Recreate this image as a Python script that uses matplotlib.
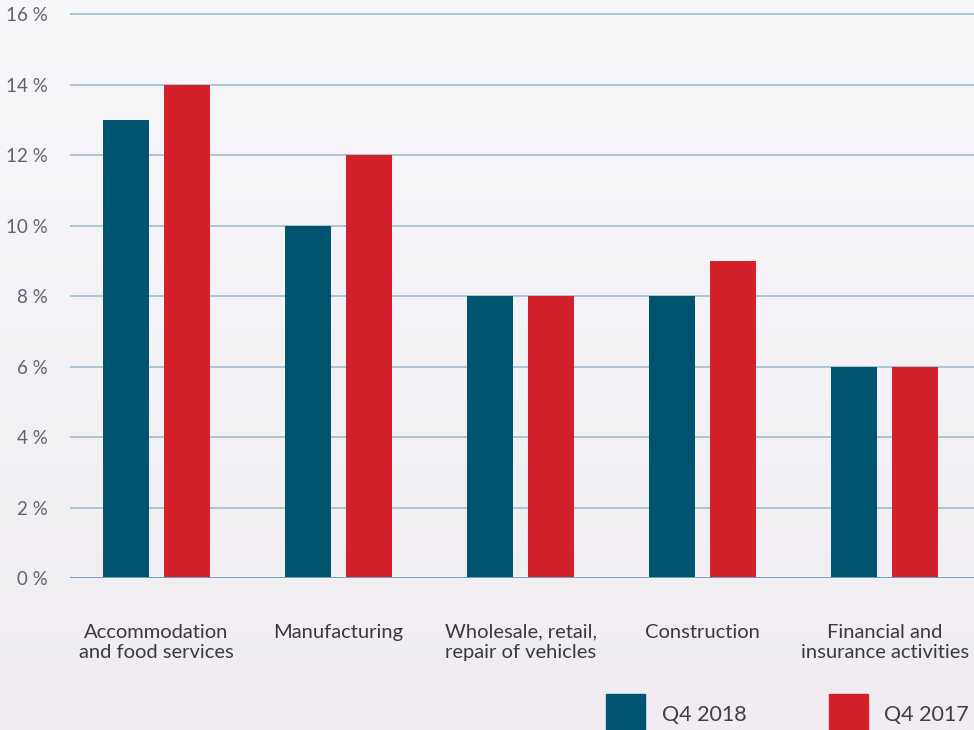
import numpy as np
import matplotlib
matplotlib.use("Agg")
import matplotlib.pyplot as plt
from matplotlib.patches import Rectangle
from matplotlib.colors import LinearSegmentedColormap

plt.rcParams['font.family'] = ['Lato', 'DejaVu Sans']

sectors = ["Accommodation\nand food services", "Manufacturing",
           "Wholesale, retail,\nrepair of vehicles", "Construction",
           "Financial and\ninsurance activities"]
q4_2018 = [13, 10, 8, 8, 6]
q4_2017 = [14, 12, 8, 9, 6]
series_names = ["Q4 2018", "Q4 2017"]
yticks = [0, 2, 4, 6, 8, 10, 12, 14, 16]

blue = "#00546f"
red = "#d3212c"

fig = plt.figure(figsize=(9.74, 7.30), dpi=100)

# soft vertical background gradient
bg = fig.add_axes([0, 0, 1, 1], zorder=-10)
grad = np.linspace(0, 1, 256).reshape(-1, 1)
cmap = LinearSegmentedColormap.from_list("bg", ["#f8f7fa", "#f0ecf1"])
bg.imshow(grad, aspect="auto", cmap=cmap, extent=[0, 1, 0, 1], origin="upper")
bg.axis("off")

ax = fig.add_axes([0.0719, 0.2082, 0.9281, 0.7871])
ax.patch.set_alpha(0)
x = np.arange(len(sectors))
off = 0.1676
w = 0.253
ax.bar(x - off, q4_2018, width=w, color=blue, zorder=3)
ax.bar(x + off, q4_2017, width=w, color=red, zorder=3)

ax.set_xlim(-0.475, 4.49)
ax.set_ylim(0, 16.3)
for v in yticks:
    ax.axhline(v, color="#6fa3bf" if v == 0 else "#a9c5d5", lw=1.4, zorder=2 if v else 4)
ax.set_yticks(yticks)
ax.set_yticklabels([f"{v} %" for v in yticks], fontsize=13.5, color="#5b6472")
ax.tick_params(axis="y", length=0, pad=16)
ax.set_xticks(x)
ax.set_xticklabels(sectors, fontsize=14.5, color="#3a3a3a", linespacing=1.25)
ax.tick_params(axis="x", length=0, pad=33)
for s in ax.spines.values():
    s.set_visible(False)

# legend swatches along the bottom edge
for sx, tx, c, name in [(606, 662, blue, series_names[0]), (829, 884, red, series_names[1])]:
    fig.patches.append(Rectangle((sx / 974, 0), 39 / 974, 36 / 730,
                                 transform=fig.transFigure, color=c))
    fig.text(tx / 974, 15 / 730, name, fontsize=15.5, color="#3f3f3f", va="center")

fig.savefig("out.png", dpi=100)
